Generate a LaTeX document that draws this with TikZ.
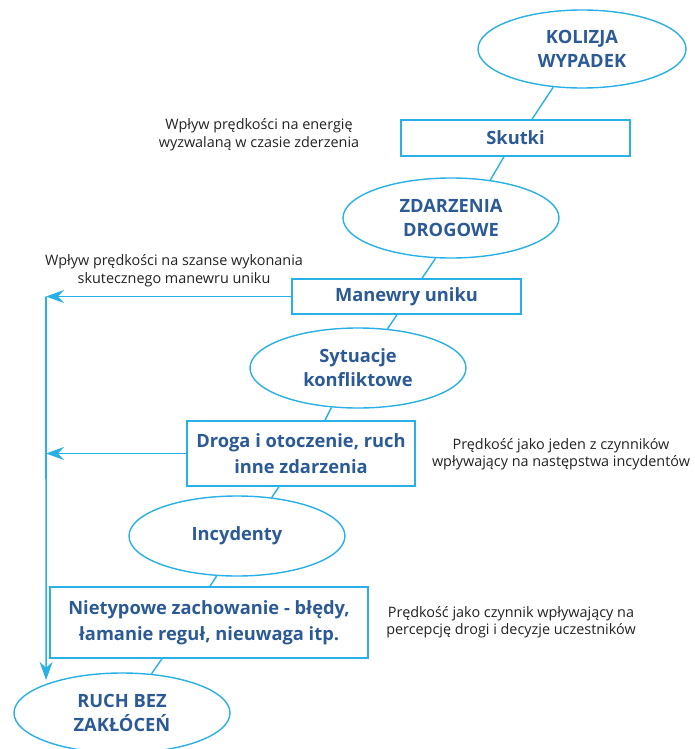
\documentclass[tikz,border=0pt]{standalone}
\usepackage{fontspec}
\setmainfont{Open Sans}
\usetikzlibrary{arrows.meta,shapes.geometric}
\definecolor{frame}{RGB}{41,176,230}
\definecolor{ink}{RGB}{44,90,150}
\definecolor{note}{RGB}{35,35,35}
\tikzset{
  ell/.style={ellipse,draw=frame,line width=1.4pt,minimum width=216pt,minimum height=80pt,inner sep=0pt,
    text=ink,align=center,font=\fontsize{18.3}{24}\selectfont\bfseries},
  box/.style={rectangle,draw=frame,line width=1.4pt,inner sep=0pt,
    text=ink,align=center,font=\fontsize{18.3}{25.5}\selectfont\bfseries},
  link/.style={draw=frame,line width=1.4pt},
  arr/.style={draw=frame,line width=1.6pt,-{Stealth[length=18pt,width=13pt,inset=6pt]}},
  notetext/.style={text=note,align=center,font=\fontsize{14.4}{17.5}\selectfont,inner sep=0pt}
}
\begin{document}
\begin{tikzpicture}[x=1pt,y=-1pt]
\useasboundingbox (0,0) rectangle (694,749);
\fill[white] (0,0) rectangle (694,749);

\node[ell,minimum width=208pt,minimum height=78pt] (kol) at (582,49) {KOLIZJA\\WYPADEK};
\node[box,minimum width=229pt,minimum height=36pt] (sku) at (515.5,138) {Skutki};
\node[ell] (zda) at (451,218) {ZDARZENIA\\DROGOWE};
\node[box,minimum width=229pt,minimum height=35pt] (man) at (406.5,296.5) {Manewry uniku};
\node[ell] (syt) at (358,368) {Sytuacje\\konfliktowe};
\node[box,minimum width=228pt,minimum height=65pt] (dro) at (301,453.5) {Droga i otoczenie, ruch\\inne zdarzenia};
\node[ell] (inc) at (237,536) {Incydenty};
\node[box,minimum width=318pt,minimum height=71pt] (nie) at (209,622.5) {Nietypowe zachowanie - błędy,\\łamanie reguł, nieuwaga itp.};
\node[ell] (ruch) at (122,713) {RUCH BEZ\\ZAKŁÓCEŃ};

\node[notetext] (t1) at (259,134.5) {Wpływ prędkości na energię\\wyzwalaną w czasie zderzenia};
\node[notetext] (t2) at (174,270.5) {Wpływ prędkości na szanse wykonania\\skutecznego manewru uniku};
\node[notetext] (t3) at (561,454) {Prędkość jako jeden z czynników\\wpływający na następstwa incydentów};
\node[notetext] (t4) at (511,622) {Prędkość jako czynnik wpływający na\\percepcję drogi i decyzje uczestników};

\draw[link] (kol.-127) -- ([xshift=16.5pt]sku.north);
\draw[link] ([xshift=-11.5pt]sku.south) -- (zda.44);
\draw[link] (zda.-111) -- ([xshift=15.5pt]man.north);
\draw[link] ([xshift=-9.5pt]man.south) -- (syt.53);
\draw[link] (syt.-124) -- ([xshift=24pt]dro.north);
\draw[link] ([xshift=-22pt]dro.south) -- (inc.48);
\draw[link] (inc.-117) -- ([xshift=1pt]nie.north);
\draw[link] ([xshift=-47pt]nie.south) -- (ruch.53);

\coordinate (L1) at (46,296.5);
\draw[arr] (man.west) -- (L1);
\draw[arr] (dro.west) -- (dro.west -| L1);
\draw[arr,shorten >=4pt] (L1) -- (ruch.159.5);
\end{tikzpicture}
\end{document}
